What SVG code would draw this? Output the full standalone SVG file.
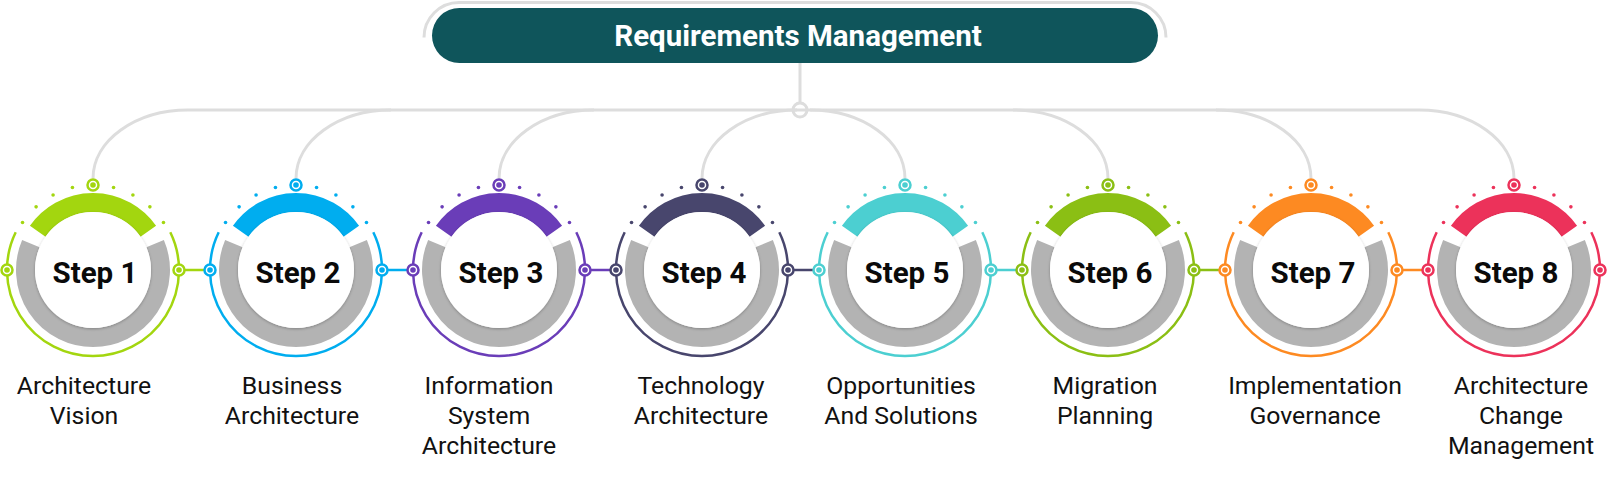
<svg xmlns="http://www.w3.org/2000/svg" width="1623" height="499" viewBox="0 0 1623 499">
<style>
.gl{fill:none;stroke:#dddddd;stroke-width:3}
.thin{fill:none;stroke-width:2.5}
.band{fill:none;stroke-width:19}
.gray{fill:none;stroke:#b3b3b3;stroke-width:19}
.inner{fill:#ffffff;filter:url(#sh)}
.sc{fill:#ffffff;stroke-width:2.5}
.st{font-family:Roboto,"Liberation Sans",sans-serif;font-weight:700;font-size:29.5px;fill:#0a0a0a;text-anchor:middle}
.lb{font-family:Roboto,"Liberation Sans",sans-serif;font-size:24.8px;fill:#111111;text-anchor:middle}
.tt{font-family:Roboto,"Liberation Sans",sans-serif;font-weight:700;font-size:29.5px;fill:#ffffff;text-anchor:middle}
.cn{stroke-width:2.5;fill:none}
</style>
<defs>
<filter id="sh" x="-20%" y="-20%" width="140%" height="140%">
<feDropShadow dx="0" dy="1" stdDeviation="1.6" flood-color="#000" flood-opacity="0.28"/>
</filter>
</defs>
<rect width="1623" height="499" fill="#ffffff"/>

<g id="title">
<path class="gl" d="M424,37.5 A35,35 0 0 1 459,2.5 L1131,2.5 A35,35 0 0 1 1166,37.5"/>
<rect x="432" y="8" width="726" height="55" rx="27.5" fill="#0f555b"/>
<text class="tt" x="798" y="46">Requirements Management</text>
</g>

<g id="connectors">
<line class="gl" x1="800" y1="63" x2="800" y2="103"/>
<line class="gl" x1="188" y1="110" x2="1419" y2="110"/>
<circle cx="800" cy="110" r="7" fill="#ffffff" stroke="#dddddd" stroke-width="3"/>
<line x1="793" y1="110" x2="807" y2="110" stroke="#dddddd" stroke-width="3"/>
<path class="gl" d="M93,178.5 C93,140.5 135.5,110 188,110"/>
<path class="gl" d="M296,178.5 C296,140.5 338.5,110 391,110"/>
<path class="gl" d="M499,178.5 C499,140.5 541.5,110 594,110"/>
<path class="gl" d="M702,178.5 C702,140.5 744.5,110 797,110"/>
<path class="gl" d="M810,110 C862.5,110 905,140.5 905,178.5"/>
<path class="gl" d="M1013,110 C1065.5,110 1108,140.5 1108,178.5"/>
<path class="gl" d="M1216,110 C1268.5,110 1311,140.5 1311,178.5"/>
<path class="gl" d="M1419,110 C1471.5,110 1514,140.5 1514,178.5"/>
<line class="cn" stroke="#a3d60f" x1="179" y1="270" x2="210" y2="270"/>
<line class="cn" stroke="#00adef" x1="382" y1="270" x2="413" y2="270"/>
<line class="cn" stroke="#6a3db8" x1="585" y1="270" x2="616" y2="270"/>
<line class="cn" stroke="#48466d" x1="788" y1="270" x2="819" y2="270"/>
<line class="cn" stroke="#4ccfd1" x1="991" y1="270" x2="1022" y2="270"/>
<line class="cn" stroke="#8bbf14" x1="1194" y1="270" x2="1225" y2="270"/>
<line class="cn" stroke="#fd8a22" x1="1397" y1="270" x2="1428" y2="270"/>
</g>

<g id="step1" transform="translate(93,270)">
<path class="thin" stroke="#a3d60f" d="M-77.3,-37.7 A86,86 0 1 0 77.3,-37.7"/>
<path class="gray" d="M-62.13,-26.37 A67.5,67.5 0 1 0 62.13,-26.37"/>
<path class="band" stroke="#a3d60f" d="M-55.29,-38.72 A67.5,67.5 0 0 1 55.29,-38.72"/>
<circle class="inner" r="58"/>
<g fill="#a3d60f"><circle cx="-20.56" cy="-82.47" r="1.8"/><circle cx="20.56" cy="-82.47" r="1.8"/><circle cx="-39.91" cy="-75.05" r="1.8"/><circle cx="39.91" cy="-75.05" r="1.8"/><circle cx="-56.88" cy="-63.17" r="1.8"/><circle cx="56.88" cy="-63.17" r="1.8"/><circle cx="-70.47" cy="-47.53" r="1.8"/><circle cx="70.47" cy="-47.53" r="1.8"/></g>
<g stroke="#a3d60f"><circle class="sc" cx="0" cy="-85" r="5.5"/><circle class="sc" cx="-86" cy="0" r="5.5"/><circle class="sc" cx="86" cy="0" r="5.5"/></g>
<g fill="#a3d60f"><circle cx="0" cy="-85" r="2.8"/><circle cx="-86" cy="0" r="2.8"/><circle cx="86" cy="0" r="2.8"/></g>
<text class="st" x="2" y="12.5">Step 1</text>
<text class="lb" x="-9" y="124">Architecture</text>
<text class="lb" x="-9" y="154">Vision</text>
</g>

<g id="step2" transform="translate(296,270)">
<path class="thin" stroke="#00adef" d="M-77.3,-37.7 A86,86 0 1 0 77.3,-37.7"/>
<path class="gray" d="M-62.13,-26.37 A67.5,67.5 0 1 0 62.13,-26.37"/>
<path class="band" stroke="#00adef" d="M-55.29,-38.72 A67.5,67.5 0 0 1 55.29,-38.72"/>
<circle class="inner" r="58"/>
<g fill="#00adef"><circle cx="-20.56" cy="-82.47" r="1.8"/><circle cx="20.56" cy="-82.47" r="1.8"/><circle cx="-39.91" cy="-75.05" r="1.8"/><circle cx="39.91" cy="-75.05" r="1.8"/><circle cx="-56.88" cy="-63.17" r="1.8"/><circle cx="56.88" cy="-63.17" r="1.8"/><circle cx="-70.47" cy="-47.53" r="1.8"/><circle cx="70.47" cy="-47.53" r="1.8"/></g>
<g stroke="#00adef"><circle class="sc" cx="0" cy="-85" r="5.5"/><circle class="sc" cx="-86" cy="0" r="5.5"/><circle class="sc" cx="86" cy="0" r="5.5"/></g>
<g fill="#00adef"><circle cx="0" cy="-85" r="2.8"/><circle cx="-86" cy="0" r="2.8"/><circle cx="86" cy="0" r="2.8"/></g>
<text class="st" x="2" y="12.5">Step 2</text>
<text class="lb" x="-4" y="124">Business</text>
<text class="lb" x="-4" y="154">Architecture</text>
</g>

<g id="step3" transform="translate(499,270)">
<path class="thin" stroke="#6a3db8" d="M-77.3,-37.7 A86,86 0 1 0 77.3,-37.7"/>
<path class="gray" d="M-62.13,-26.37 A67.5,67.5 0 1 0 62.13,-26.37"/>
<path class="band" stroke="#6a3db8" d="M-55.29,-38.72 A67.5,67.5 0 0 1 55.29,-38.72"/>
<circle class="inner" r="58"/>
<g fill="#6a3db8"><circle cx="-20.56" cy="-82.47" r="1.8"/><circle cx="20.56" cy="-82.47" r="1.8"/><circle cx="-39.91" cy="-75.05" r="1.8"/><circle cx="39.91" cy="-75.05" r="1.8"/><circle cx="-56.88" cy="-63.17" r="1.8"/><circle cx="56.88" cy="-63.17" r="1.8"/><circle cx="-70.47" cy="-47.53" r="1.8"/><circle cx="70.47" cy="-47.53" r="1.8"/></g>
<g stroke="#6a3db8"><circle class="sc" cx="0" cy="-85" r="5.5"/><circle class="sc" cx="-86" cy="0" r="5.5"/><circle class="sc" cx="86" cy="0" r="5.5"/></g>
<g fill="#6a3db8"><circle cx="0" cy="-85" r="2.8"/><circle cx="-86" cy="0" r="2.8"/><circle cx="86" cy="0" r="2.8"/></g>
<text class="st" x="2" y="12.5">Step 3</text>
<text class="lb" x="-10" y="124">Information</text>
<text class="lb" x="-10" y="154">System</text>
<text class="lb" x="-10" y="184">Architecture</text>
</g>

<g id="step4" transform="translate(702,270)">
<path class="thin" stroke="#48466d" d="M-77.3,-37.7 A86,86 0 1 0 77.3,-37.7"/>
<path class="gray" d="M-62.13,-26.37 A67.5,67.5 0 1 0 62.13,-26.37"/>
<path class="band" stroke="#48466d" d="M-55.29,-38.72 A67.5,67.5 0 0 1 55.29,-38.72"/>
<circle class="inner" r="58"/>
<g fill="#48466d"><circle cx="-20.56" cy="-82.47" r="1.8"/><circle cx="20.56" cy="-82.47" r="1.8"/><circle cx="-39.91" cy="-75.05" r="1.8"/><circle cx="39.91" cy="-75.05" r="1.8"/><circle cx="-56.88" cy="-63.17" r="1.8"/><circle cx="56.88" cy="-63.17" r="1.8"/><circle cx="-70.47" cy="-47.53" r="1.8"/><circle cx="70.47" cy="-47.53" r="1.8"/></g>
<g stroke="#48466d"><circle class="sc" cx="0" cy="-85" r="5.5"/><circle class="sc" cx="-86" cy="0" r="5.5"/><circle class="sc" cx="86" cy="0" r="5.5"/></g>
<g fill="#48466d"><circle cx="0" cy="-85" r="2.8"/><circle cx="-86" cy="0" r="2.8"/><circle cx="86" cy="0" r="2.8"/></g>
<text class="st" x="2" y="12.5">Step 4</text>
<text class="lb" x="-1" y="124">Technology</text>
<text class="lb" x="-1" y="154">Architecture</text>
</g>

<g id="step5" transform="translate(905,270)">
<path class="thin" stroke="#4ccfd1" d="M-77.3,-37.7 A86,86 0 1 0 77.3,-37.7"/>
<path class="gray" d="M-62.13,-26.37 A67.5,67.5 0 1 0 62.13,-26.37"/>
<path class="band" stroke="#4ccfd1" d="M-55.29,-38.72 A67.5,67.5 0 0 1 55.29,-38.72"/>
<circle class="inner" r="58"/>
<g fill="#4ccfd1"><circle cx="-20.56" cy="-82.47" r="1.8"/><circle cx="20.56" cy="-82.47" r="1.8"/><circle cx="-39.91" cy="-75.05" r="1.8"/><circle cx="39.91" cy="-75.05" r="1.8"/><circle cx="-56.88" cy="-63.17" r="1.8"/><circle cx="56.88" cy="-63.17" r="1.8"/><circle cx="-70.47" cy="-47.53" r="1.8"/><circle cx="70.47" cy="-47.53" r="1.8"/></g>
<g stroke="#4ccfd1"><circle class="sc" cx="0" cy="-85" r="5.5"/><circle class="sc" cx="-86" cy="0" r="5.5"/><circle class="sc" cx="86" cy="0" r="5.5"/></g>
<g fill="#4ccfd1"><circle cx="0" cy="-85" r="2.8"/><circle cx="-86" cy="0" r="2.8"/><circle cx="86" cy="0" r="2.8"/></g>
<text class="st" x="2" y="12.5">Step 5</text>
<text class="lb" x="-4" y="124">Opportunities</text>
<text class="lb" x="-4" y="154">And Solutions</text>
</g>

<g id="step6" transform="translate(1108,270)">
<path class="thin" stroke="#8bbf14" d="M-77.3,-37.7 A86,86 0 1 0 77.3,-37.7"/>
<path class="gray" d="M-62.13,-26.37 A67.5,67.5 0 1 0 62.13,-26.37"/>
<path class="band" stroke="#8bbf14" d="M-55.29,-38.72 A67.5,67.5 0 0 1 55.29,-38.72"/>
<circle class="inner" r="58"/>
<g fill="#8bbf14"><circle cx="-20.56" cy="-82.47" r="1.8"/><circle cx="20.56" cy="-82.47" r="1.8"/><circle cx="-39.91" cy="-75.05" r="1.8"/><circle cx="39.91" cy="-75.05" r="1.8"/><circle cx="-56.88" cy="-63.17" r="1.8"/><circle cx="56.88" cy="-63.17" r="1.8"/><circle cx="-70.47" cy="-47.53" r="1.8"/><circle cx="70.47" cy="-47.53" r="1.8"/></g>
<g stroke="#8bbf14"><circle class="sc" cx="0" cy="-85" r="5.5"/><circle class="sc" cx="-86" cy="0" r="5.5"/><circle class="sc" cx="86" cy="0" r="5.5"/></g>
<g fill="#8bbf14"><circle cx="0" cy="-85" r="2.8"/><circle cx="-86" cy="0" r="2.8"/><circle cx="86" cy="0" r="2.8"/></g>
<text class="st" x="2" y="12.5">Step 6</text>
<text class="lb" x="-3" y="124">Migration</text>
<text class="lb" x="-3" y="154">Planning</text>
</g>

<g id="step7" transform="translate(1311,270)">
<path class="thin" stroke="#fd8a22" d="M-77.3,-37.7 A86,86 0 1 0 77.3,-37.7"/>
<path class="gray" d="M-62.13,-26.37 A67.5,67.5 0 1 0 62.13,-26.37"/>
<path class="band" stroke="#fd8a22" d="M-55.29,-38.72 A67.5,67.5 0 0 1 55.29,-38.72"/>
<circle class="inner" r="58"/>
<g fill="#fd8a22"><circle cx="-20.56" cy="-82.47" r="1.8"/><circle cx="20.56" cy="-82.47" r="1.8"/><circle cx="-39.91" cy="-75.05" r="1.8"/><circle cx="39.91" cy="-75.05" r="1.8"/><circle cx="-56.88" cy="-63.17" r="1.8"/><circle cx="56.88" cy="-63.17" r="1.8"/><circle cx="-70.47" cy="-47.53" r="1.8"/><circle cx="70.47" cy="-47.53" r="1.8"/></g>
<g stroke="#fd8a22"><circle class="sc" cx="0" cy="-85" r="5.5"/><circle class="sc" cx="-86" cy="0" r="5.5"/><circle class="sc" cx="86" cy="0" r="5.5"/></g>
<g fill="#fd8a22"><circle cx="0" cy="-85" r="2.8"/><circle cx="-86" cy="0" r="2.8"/><circle cx="86" cy="0" r="2.8"/></g>
<text class="st" x="2" y="12.5">Step 7</text>
<text class="lb" x="4" y="124">Implementation</text>
<text class="lb" x="4" y="154">Governance</text>
</g>

<g id="step8" transform="translate(1514,270)">
<path class="thin" stroke="#ec325a" d="M-77.3,-37.7 A86,86 0 1 0 77.3,-37.7"/>
<path class="gray" d="M-62.13,-26.37 A67.5,67.5 0 1 0 62.13,-26.37"/>
<path class="band" stroke="#ec325a" d="M-55.29,-38.72 A67.5,67.5 0 0 1 55.29,-38.72"/>
<circle class="inner" r="58"/>
<g fill="#ec325a"><circle cx="-20.56" cy="-82.47" r="1.8"/><circle cx="20.56" cy="-82.47" r="1.8"/><circle cx="-39.91" cy="-75.05" r="1.8"/><circle cx="39.91" cy="-75.05" r="1.8"/><circle cx="-56.88" cy="-63.17" r="1.8"/><circle cx="56.88" cy="-63.17" r="1.8"/><circle cx="-70.47" cy="-47.53" r="1.8"/><circle cx="70.47" cy="-47.53" r="1.8"/></g>
<g stroke="#ec325a"><circle class="sc" cx="0" cy="-85" r="5.5"/><circle class="sc" cx="-86" cy="0" r="5.5"/><circle class="sc" cx="86" cy="0" r="5.5"/></g>
<g fill="#ec325a"><circle cx="0" cy="-85" r="2.8"/><circle cx="-86" cy="0" r="2.8"/><circle cx="86" cy="0" r="2.8"/></g>
<text class="st" x="2" y="12.5">Step 8</text>
<text class="lb" x="7" y="124">Architecture</text>
<text class="lb" x="7" y="154">Change</text>
<text class="lb" x="7" y="184">Management</text>
</g>
</svg>
